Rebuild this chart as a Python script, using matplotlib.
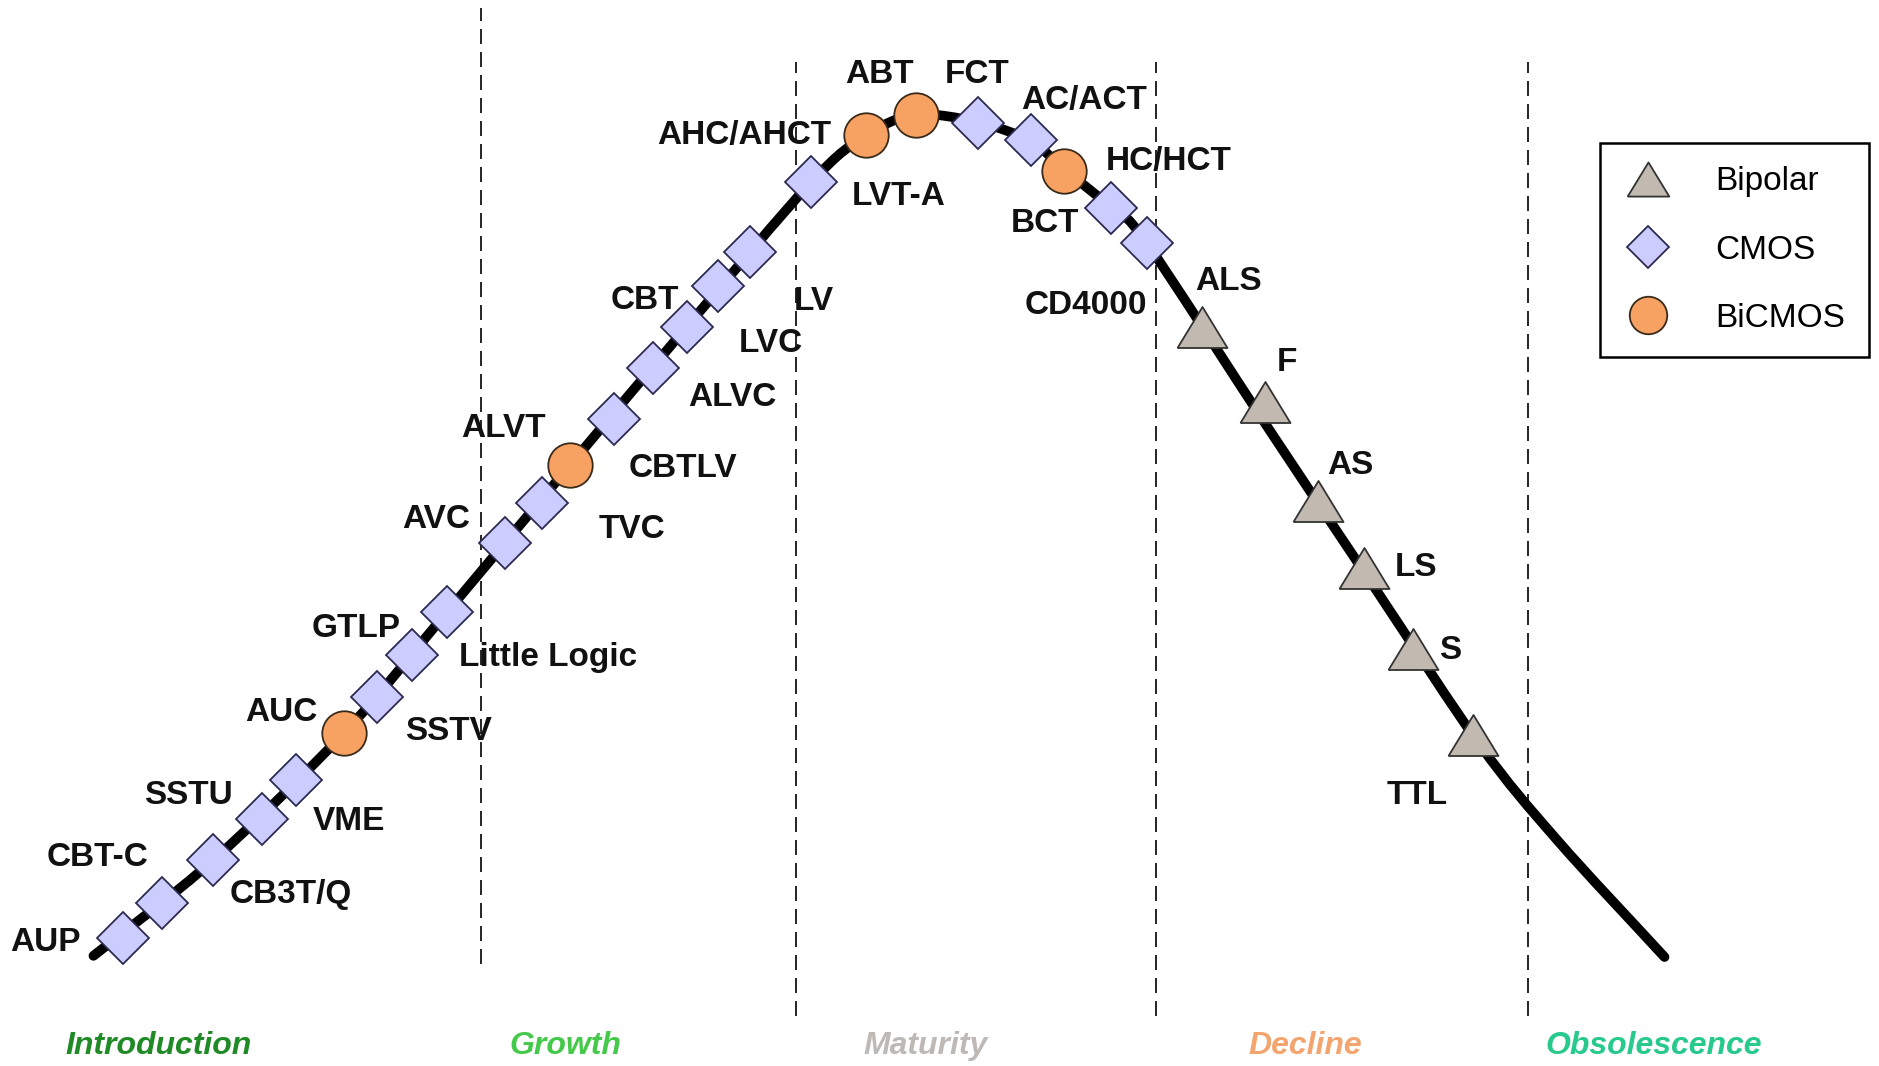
import numpy as np
import matplotlib
matplotlib.use("Agg")
import matplotlib.pyplot as plt
from matplotlib.path import Path
from matplotlib.patches import PathPatch
from matplotlib.lines import Line2D
from matplotlib import font_manager

# ---------------- data ----------------
# logic families along the product life-cycle curve (x = time, y = volume)
families = ["AUP", "CBT-C", "CB3T/Q", "SSTU", "VME", "AUC", "SSTV", "GTLP",
            "Little Logic", "AVC", "TVC", "ALVT", "CBTLV", "ALVC", "LVC", "CBT",
            "LV", "AHC/AHCT", "LVT-A", "ABT", "FCT", "AC/ACT", "BCT", "HC/HCT",
            "CD4000", "ALS", "F", "AS", "LS", "S", "TTL"]
technology = ["CMOS", "CMOS", "CMOS", "CMOS", "CMOS", "BiCMOS", "CMOS", "CMOS",
              "CMOS", "CMOS", "CMOS", "BiCMOS", "CMOS", "CMOS", "CMOS", "CMOS",
              "CMOS", "CMOS", "BiCMOS", "BiCMOS", "CMOS", "CMOS", "BiCMOS", "CMOS",
              "CMOS", "Bipolar", "Bipolar", "Bipolar", "Bipolar", "Bipolar", "Bipolar"]
marker_x = [103, 135, 178, 219, 247, 287, 315, 344, 373, 421, 452, 476, 512, 545,
            573, 599, 626, 677, 723, 764, 816, 860, 888, 927, 957, 1003, 1056,
            1100, 1138, 1179, 1229]
marker_y = [107, 136, 172, 206, 239, 278, 308, 343, 379, 437, 470, 502, 540, 583,
            617, 651, 680, 738, 777, 794, 787, 773, 747, 716, 687, 617, 554,
            472, 416, 348, 276]
# label anchor points (centre of each family name)
label_x = [38, 81, 243, 157, 291, 235, 374, 297, 457, 364, 527, 420, 570, 611,
           643, 538, 679, 621, 750, 734, 815, 905, 872, 975, 906, 1025, 1074,
           1127, 1182, 1210, 1183]
label_y = [106, 177, 146, 229, 207, 298, 282, 368, 344, 459, 451, 535, 502, 561,
           606, 642, 641, 780, 729, 831, 831, 809, 706, 758, 638, 658, 590,
           504, 419, 350, 229]
# life-cycle curve
curve_x = [78, 178, 287, 373, 476, 573, 677, 723, 764, 816, 860, 889, 928, 957,
           1058, 1150, 1235, 1300, 1389]
curve_y = [92, 172, 278, 379, 502, 617, 738, 777, 794, 788, 772, 748, 716, 687,
           533, 395, 268, 188, 91]

# life-cycle phases
phases = ["Introduction", "Growth", "Maturity", "Decline", "Obsolescence"]
phase_x = [132, 472, 772, 1089, 1380]
phase_colors = ["#1f8a26", "#45c94a", "#bdb9b6", "#f4a46e", "#27c98c"]
boundaries = [401, 664, 965, 1275]
boundary_top = [883, 838, 838, 838]
boundary_bottom = [85, 42, 42, 42]

# ---------------- styling ----------------
W, H = 1568, 890
avail = {f.name for f in font_manager.fontManager.ttflist}
if "Liberation Sans Narrow" in avail:
    FONT = ["Liberation Sans Narrow", "Liberation Sans"]
    lab_fs, ph_fs, leg_fs = 29, 28.5, 29
else:
    FONT = ["Liberation Sans", "DejaVu Sans"]
    lab_fs, ph_fs, leg_fs = 24, 23, 24

styles = {
    "CMOS": dict(marker="D", ms=26, mfc="#ccccff", mec="#2b2b4f", mew=1.3),
    "BiCMOS": dict(marker="o", ms=32, mfc="#f7a262", mec="#3a2a1a", mew=1.3),
    "Bipolar": dict(marker=[(-1, -0.82), (1, -0.82), (0, 0.82), (-1, -0.82)],
                    ms=36, mfc="#c2bab1", mec="#333333", mew=1.3),
}

fig = plt.figure(figsize=(18.79, 10.66), dpi=100)
ax = fig.add_axes([0, 0, 1, 1])
ax.set_xlim(0, W)
ax.set_ylim(0, H)
ax.axis("off")

# phase boundaries
for bx, t, b in zip(boundaries, boundary_top, boundary_bottom):
    ax.plot([bx, bx], [b, t], color="black", lw=1.2,
            linestyle=(0, (9, 4.8)), zorder=1)

# life-cycle curve (smooth cubic Bezier path through the knots)
P = np.column_stack([np.array(curve_x, float), np.array(curve_y, float)])
Pext = np.vstack([P[0] - (P[1] - P[0]), P, P[-1] + (P[-1] - P[-2])])
verts = [tuple(P[0])]
codes = [Path.MOVETO]
for i in range(1, len(Pext) - 2):
    p0, p1, p2, p3 = Pext[i - 1], Pext[i], Pext[i + 1], Pext[i + 2]
    c1 = p1 + (p2 - p0) / 6.0
    c2 = p2 - (p3 - p1) / 6.0
    verts += [tuple(c1), tuple(c2), tuple(p2)]
    codes += [Path.CURVE4] * 3
ax.add_patch(PathPatch(Path(verts, codes), facecolor="none", edgecolor="black",
                       lw=7, capstyle="round", joinstyle="round", zorder=2))

# markers
for x, y, tech in zip(marker_x, marker_y, technology):
    ax.plot([x], [y], linestyle="none", zorder=3, **styles[tech])

# labels (centre -> baseline shift for capital letters)
cap_half = 0.716 * lab_fs * 100 / 72 / 2 / 1.1983
for name, x, y in zip(families, label_x, label_y):
    ax.text(x, y - cap_half, name, ha="center", va="baseline",
            fontsize=lab_fs, fontweight="bold", family=FONT, color="#111111",
            zorder=4)

# phase names
for name, x, c in zip(phases, phase_x, phase_colors):
    ax.text(x, 20 - cap_half, name, ha="center", va="baseline",
            fontsize=ph_fs, fontweight="bold", fontstyle="italic",
            family=FONT, color=c, zorder=4)

# legend
leg_sizes = {"Bipolar": 30, "CMOS": 21, "BiCMOS": 27}
handles = []
for tech in ["Bipolar", "CMOS", "BiCMOS"]:
    st = dict(styles[tech])
    st["ms"] = leg_sizes[tech]
    handles.append(Line2D([], [], linestyle="none", label=tech, **st))
leg = ax.legend(handles=handles, loc="upper left",
                bbox_to_anchor=(1600 / 1879, 1 - 143 / 1066),
                bbox_transform=fig.transFigure,
                prop=dict(family=FONT, size=leg_fs),
                frameon=True, fancybox=False, framealpha=1,
                edgecolor="black", borderpad=0.7, labelspacing=1.12,
                handlelength=1.45, handletextpad=1.32, borderaxespad=0)
leg.get_frame().set_linewidth(1.8)

fig.savefig("out.png", dpi=100, facecolor="white")
